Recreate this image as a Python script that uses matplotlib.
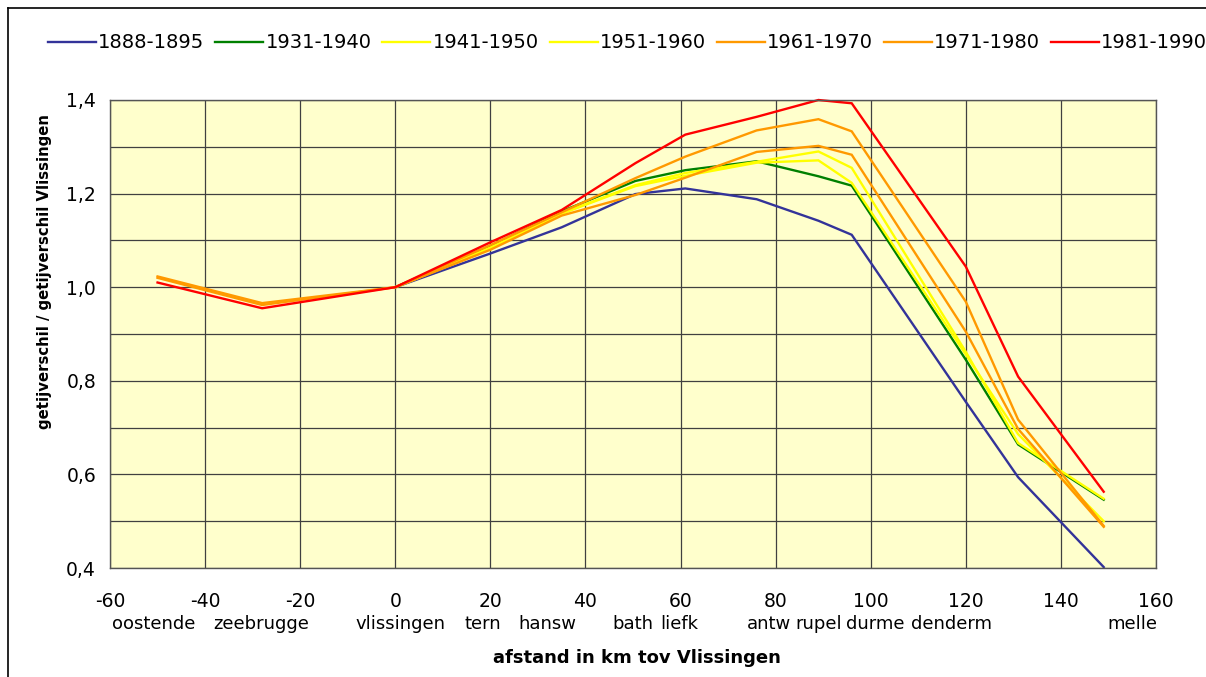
import numpy as np
import matplotlib
matplotlib.use("Agg")
import matplotlib.pyplot as plt
from matplotlib.lines import Line2D
from matplotlib.ticker import MultipleLocator, FuncFormatter

# ---- data ----
km = [-50, -28, 0, 20, 35, 50.5, 61, 76, 89, 96, 120, 131, 149]
nan = np.nan
s_1888 = [nan, nan, 1.0, 1.072, 1.128, 1.199, 1.211, 1.188, 1.142, 1.112, 0.755, 0.594, 0.402]
s_1931 = [nan, nan, 1.0, 1.088, 1.162, 1.227, 1.250, 1.269, 1.237, 1.217, 0.845, 0.664, 0.546]
s_1941 = [nan, nan, 1.0, 1.082, 1.157, 1.216, 1.238, 1.266, 1.271, 1.223, 0.856, 0.686, 0.500]
s_1951 = [nan, nan, 1.0, 1.085, 1.158, 1.218, 1.244, 1.268, 1.290, 1.255, 0.862, 0.667, 0.548]
s_1961 = [1.023, 0.966, 1.0, 1.080, 1.153, 1.197, 1.234, 1.289, 1.302, 1.283, 0.905, 0.697, 0.488]
s_1971 = [1.020, 0.962, 1.0, 1.090, 1.160, 1.233, 1.279, 1.335, 1.359, 1.333, 0.969, 0.717, 0.490]
s_1981 = [1.010, 0.955, 1.0, 1.096, 1.165, 1.265, 1.326, 1.364, 1.400, 1.393, 1.044, 0.809, 0.563]

series_names = ["1888-1895", "1931-1940", "1941-1950", "1951-1960",
                "1961-1970", "1971-1980", "1981-1990"]
series_vals = [s_1888, s_1931, s_1941, s_1951, s_1961, s_1971, s_1981]
colors = ["#333399", "#008000", "#FFFF00", "#FFFF00", "#FF9900", "#FF9900", "#FF0000"]

station_names = ["oostende", "zeebrugge", "vlissingen", "tern", "hansw", "bath",
                 "liefk", "antw", "rupel", "durme", "denderm", "melle"]
station_pos = [-50.8, -28.2, 1.0, 18.5, 32.0, 50.0, 59.8, 78.5, 89.0, 100.9, 116.9, 155.0]

# ---- figure ----
plt.rcParams['font.family'] = ['DejaVu Sans']
plt.rcParams['axes.unicode_minus'] = False
fig = plt.figure(figsize=(12.06, 6.77), dpi=100)
ax = fig.add_axes([110/1206, 1-568/677, (1156-110)/1206, (568-100)/677])
ax.set_facecolor("#FFFFCC")

for name, vals, c in zip(series_names, series_vals, colors):
    ax.plot(km, vals, color=c, lw=1.7, label=name, clip_on=False, solid_joinstyle='miter')

ax.set_xlim(-60, 160)
ax.set_ylim(0.4, 1.4)
ax.xaxis.set_major_locator(MultipleLocator(20))
ax.yaxis.set_major_locator(MultipleLocator(0.2))
ax.yaxis.set_minor_locator(MultipleLocator(0.1))
ax.yaxis.set_major_formatter(FuncFormatter(lambda v, p: f"{v:.1f}".replace(".", ",")))
ax.grid(True, which='both', color="#404040", lw=0.9)
ax.set_axisbelow(True)
ax.tick_params(axis='both', which='both', length=0)
ax.tick_params(axis='x', pad=17, labelsize=13.5)
ax.tick_params(axis='y', pad=10, labelsize=13.5)
for sp in ax.spines.values():
    sp.set_color("#555555")
    sp.set_linewidth(1.0)

for n, p in zip(station_names, station_pos):
    ax.text(p, -0.120, n, transform=ax.get_xaxis_transform(), ha='center', va='center',
            fontsize=13)

ax.set_xlabel("afstand in km tov Vlissingen", fontsize=13, fontweight='bold')
ax.xaxis.set_label_coords((637-110)/1046, (568-658)/468)
ax.xaxis.label.set_va('center')
ax.set_ylabel("getijverschil / getijverschil Vlissingen", fontsize=10.7, fontweight='bold')
ax.yaxis.set_label_coords((45-110)/1046, (677-272-109)/468)
ax.yaxis.label.set_va('center')

fig.legend(loc='center left', bbox_to_anchor=(48/1206, 1-43/677), ncol=7, frameon=False,
           fontsize=14, handlelength=2.47, handletextpad=0.12, columnspacing=0.55,
           borderaxespad=0, borderpad=0)

# outer frame lines
fig.add_artist(Line2D([8/1206, 8/1206], [0, 1-8/677], color='black', lw=1.2))
fig.add_artist(Line2D([8/1206, 1], [1-8/677, 1-8/677], color='black', lw=1.2))

fig.savefig("out.png", dpi=100)
